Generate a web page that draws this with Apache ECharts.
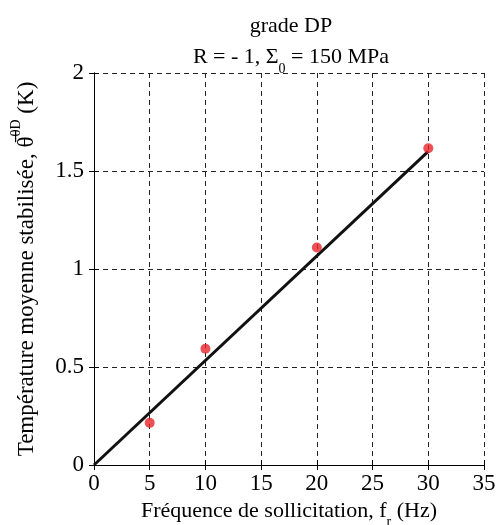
<!DOCTYPE html>
<html>
<head>
<meta charset="utf-8">
<script src="https://cdn.jsdelivr.net/npm/echarts@6/dist/echarts.min.js"></script>
<style>html,body{margin:0;padding:0;background:#fff;}#c{width:498px;height:525px;}</style>
</head>
<body>
<div id="c"></div>
<script>
// Data
const freq = [5, 10, 20, 30];
const temp = [0.215, 0.593, 1.11, 1.616];
const fitX = [0, 30];
const fitY = [0, 1.60];
const xTicks = [0, 5, 10, 15, 20, 25, 30, 35];
const yTicks = [0, 0.5, 1, 1.5, 2];

const FONT = 'Liberation Serif';
const chart = echarts.init(document.getElementById('c'));
const gridL = 94, gridR = 14, gridT = 73, gridB = 60;
const centerX = 291;

const dash = {color: '#222', type: [5, 4], width: 1};
const axisCommon = {
  axisLine: {show: true, lineStyle: {color: '#000', width: 1}},
  axisTick: {show: true, inside: true, length: 5, lineStyle: {color: '#000'}},
  splitLine: {show: false}
};

chart.setOption({
  animation: false,
  backgroundColor: '#fff',
  grid: {left: gridL, right: gridR, top: gridT, bottom: gridB, show: false, containLabel: false, outerBoundsMode: 'none'},
  graphic: [
    {type: 'text', style: {x: centerX, y: 26, text: 'grade DP', align: 'center', verticalAlign: 'middle', font: '22px "' + FONT + '"', fill: '#000'}},
    {type: 'text', style: {x: centerX, y: 57, align: 'center', verticalAlign: 'middle',
      text: 'R = - 1, Σ{sub|0} = 150 MPa', font: '22px "' + FONT + '"', fill: '#000',
      rich: {sub: {fontSize: 14, fontFamily: FONT, lineHeight: 38, verticalAlign: 'bottom', fill: '#000'}}}}
  ],
  xAxis: [
    Object.assign({}, axisCommon, {
      type: 'value', min: 0, max: 35, interval: 5, position: 'bottom',
      axisLabel: {fontFamily: FONT, fontSize: 23, color: '#000', margin: 7, formatter: v => String(v)},
      splitLine: {show: true, lineStyle: dash},
      name: 'Fréquence de sollicitation, f{sub|r} (Hz)', nameLocation: 'middle', nameGap: 28,
      nameTextStyle: {fontFamily: FONT, fontSize: 22, color: '#000', verticalAlign: 'top',
        rich: {sub: {fontFamily: FONT, fontSize: 14, color: '#000', lineHeight: 36, verticalAlign: 'bottom'}}}
    }),
    Object.assign({}, axisCommon, {
      type: 'value', min: 0, max: 35, interval: 5, position: 'top', axisLabel: {show: false}
    })
  ],
  yAxis: [
    Object.assign({}, axisCommon, {
      type: 'value', min: 0, max: 2, interval: 0.5, position: 'left',
      axisLabel: {fontFamily: FONT, fontSize: 23, color: '#000', margin: 10, formatter: v => String(v)},
      splitLine: {show: true, lineStyle: dash},
      name: 'Température moyenne stabilisée, θ\u0305{sup|0D} (K)', nameLocation: 'middle', nameGap: 49, nameRotate: 90,
      nameTextStyle: {fontFamily: FONT, fontSize: 23, color: '#000',
        rich: {sup: {fontFamily: FONT, fontSize: 14, color: '#000', lineHeight: 36, verticalAlign: 'top'}}}
    }),
    Object.assign({}, axisCommon, {
      type: 'value', min: 0, max: 2, interval: 0.5, position: 'right', axisLabel: {show: false}
    })
  ],
  series: [
    {type: 'line', data: fitX.map((x, i) => [x, fitY[i]]), symbol: 'none',
     lineStyle: {color: '#111', width: 3}, z: 3},
    {type: 'scatter', data: freq.map((x, i) => [x, temp[i]]), symbolSize: 10,
     itemStyle: {color: '#e8262a'}, z: 4}
  ]
});
</script>
</body>
</html>
